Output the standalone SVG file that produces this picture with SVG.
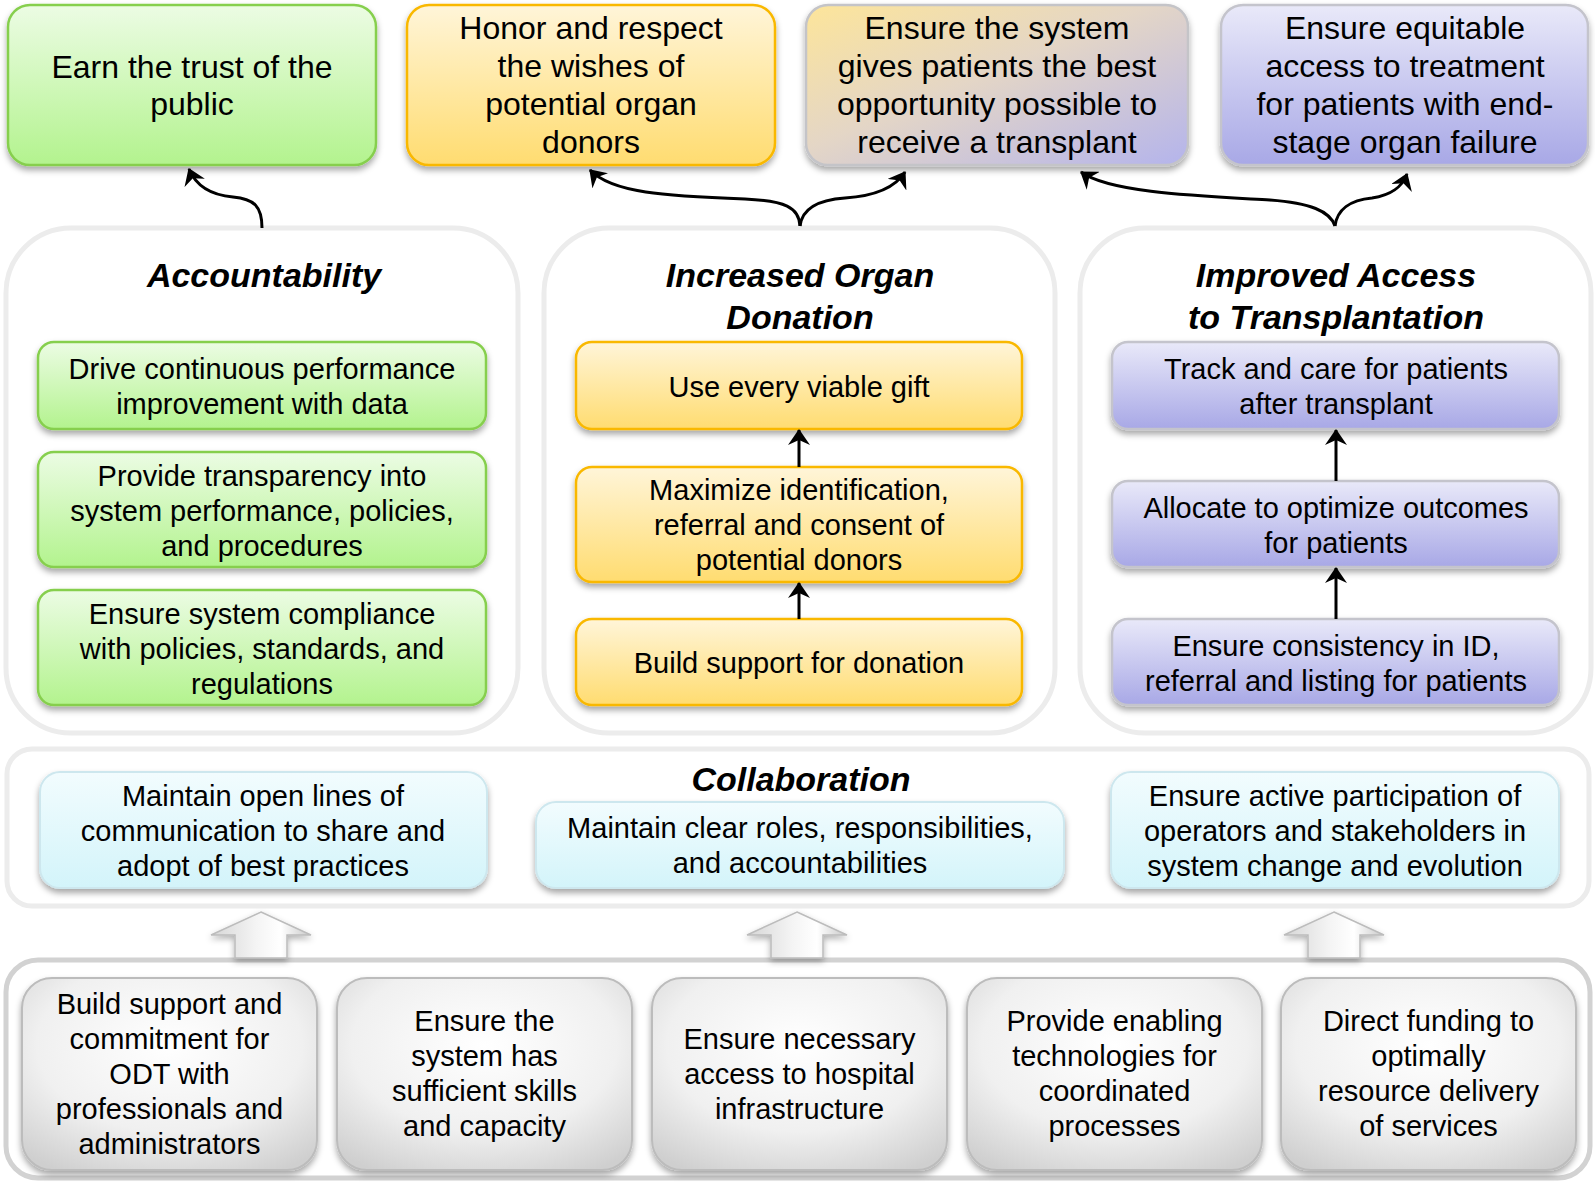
<svg xmlns="http://www.w3.org/2000/svg" width="1595" height="1182" viewBox="0 0 1595 1182">
<defs>
<style>
.t{font-family:"Liberation Sans",Arial,Helvetica,sans-serif;font-size:29px;fill:#000;text-anchor:middle}
.tt{font-size:32px}
.h{font-weight:bold;font-style:italic;font-size:34px}
.cont{fill:#fff;stroke:#ececec;stroke-width:5}
.green{fill:url(#gGreen);stroke:#86cf4e;stroke-width:2.5;filter:url(#sh)}
.orange{fill:url(#gOrange);stroke:#f9b800;stroke-width:2.5;filter:url(#sh)}
.mixed{fill:url(#gMixed);stroke:#c4c4c8;stroke-width:2.5;filter:url(#sh)}
.purple{fill:url(#gPurple);stroke:#c4c4cc;stroke-width:2.5;filter:url(#sh)}
.cyan{fill:url(#gCyan);stroke:#cde7ee;stroke-width:2;filter:url(#sh)}
.grey{fill:url(#gGrey);stroke:#bcbcbc;stroke-width:2;filter:url(#sh)}
.conn{fill:none;stroke:#000;stroke-width:3;marker-end:url(#ah)}
.blk{fill:url(#gBlk);stroke:#bcbcbc;stroke-width:1.5;filter:url(#sh2)}
</style>
<filter id="sh" x="-10%" y="-10%" width="120%" height="130%">
<feDropShadow dx="0" dy="4" stdDeviation="3" flood-color="#000" flood-opacity="0.35"/>
</filter>
<filter id="sh2" x="-20%" y="-20%" width="140%" height="140%">
<feDropShadow dx="0" dy="3" stdDeviation="3" flood-color="#000" flood-opacity="0.3"/>
</filter>
<linearGradient id="gGreen" x1="0" y1="0" x2="0" y2="1">
<stop offset="0" stop-color="#ecfce4"/><stop offset="1" stop-color="#b3f38e"/>
</linearGradient>
<linearGradient id="gOrange" x1="0" y1="0" x2="0" y2="1">
<stop offset="0" stop-color="#fff5d9"/><stop offset="1" stop-color="#ffdc70"/>
</linearGradient>
<linearGradient id="gMixed" x1="0" y1="0" x2="1" y2="1">
<stop offset="0" stop-color="#fde59a"/><stop offset="0.45" stop-color="#e4d6c6"/><stop offset="1" stop-color="#b4b4ec"/>
</linearGradient>
<linearGradient id="gPurple" x1="0" y1="0" x2="0" y2="1">
<stop offset="0" stop-color="#e9e9f9"/><stop offset="1" stop-color="#a8a8e6"/>
</linearGradient>
<linearGradient id="gCyan" x1="0" y1="0" x2="0" y2="1">
<stop offset="0" stop-color="#f2fcfe"/><stop offset="1" stop-color="#d3f4fa"/>
</linearGradient>
<radialGradient id="gGrey" cx="0.5" cy="0.35" r="0.75">
<stop offset="0" stop-color="#ffffff"/><stop offset="0.6" stop-color="#f0f0f0"/><stop offset="1" stop-color="#cfcfcf"/>
</radialGradient>
<linearGradient id="gBlk" x1="0" y1="0" x2="1" y2="0">
<stop offset="0" stop-color="#d6d6d6"/><stop offset="0.45" stop-color="#f4f4f4"/><stop offset="0.7" stop-color="#ffffff"/><stop offset="1" stop-color="#c8c8c8"/>
</linearGradient>
<marker id="ah" viewBox="0 0 16 22" refX="15" refY="11" markerWidth="16" markerHeight="22" markerUnits="userSpaceOnUse" orient="auto">
<path d="M0,0 L16,11 L0,22 L5,11 z" fill="#000"/>
</marker>
</defs>

<rect width="1595" height="1182" fill="#fff"/>

<!-- containers -->
<g id="container-accountability"><rect class="cont" x="6" y="228" width="512" height="505" rx="65"/></g>
<g id="container-iod"><rect class="cont" x="544" y="228" width="511" height="505" rx="65"/></g>
<g id="container-ia"><rect class="cont" x="1080" y="228" width="511" height="505" rx="65"/></g>
<g id="container-collab"><rect class="cont" x="7" y="749" width="1582" height="157" rx="25"/></g>
<g id="container-bottom"><rect class="cont" x="6" y="960" width="1584" height="218" rx="32" style="stroke:#d2d2d2"/></g>

<!-- block arrows -->
<g id="block-arrows">
<polygon class="blk" points="261,912 311,935 287,935 287,958 235,958 235,935 211,935"/>
<polygon class="blk" points="797,912 847,935 823,935 823,958 771,958 771,935 747,935"/>
<polygon class="blk" points="1334,912 1384,935 1360,935 1360,958 1308,958 1308,935 1284,935"/>
</g>

<!-- top goal boxes -->
<g id="goal-trust"><rect class="green" x="8" y="5" width="368" height="160" rx="22"/>
<text class="t tt" x="192" y="78">Earn the trust of the</text><text class="t tt" x="192" y="115">public</text></g>
<g id="goal-honor"><rect class="orange" x="407" y="5" width="368" height="160" rx="22"/>
<text class="t tt" x="591" y="39">Honor and respect</text><text class="t tt" x="591" y="77">the wishes of</text><text class="t tt" x="591" y="115">potential organ</text><text class="t tt" x="591" y="153">donors</text></g>
<g id="goal-opportunity"><rect class="mixed" x="806" y="5" width="382" height="160" rx="22"/>
<text class="t tt" x="997" y="39">Ensure the system</text><text class="t tt" x="997" y="77">gives patients the best</text><text class="t tt" x="997" y="115">opportunity possible to</text><text class="t tt" x="997" y="153">receive a transplant</text></g>
<g id="goal-equitable"><rect class="purple" x="1221" y="5" width="367" height="160" rx="22"/>
<text class="t tt" x="1405" y="39">Ensure equitable</text><text class="t tt" x="1405" y="77">access to treatment</text><text class="t tt" x="1405" y="115">for patients with end-</text><text class="t tt" x="1405" y="153">stage organ failure</text></g>

<!-- Accountability -->
<g id="title-accountability"><text class="t h" x="264" y="287">Accountability</text></g>
<g id="acc-1"><rect class="green" x="38" y="342" width="448" height="87" rx="16"/>
<text class="t" x="262" y="379">Drive continuous performance</text><text class="t" x="262" y="414">improvement with data</text></g>
<g id="acc-2"><rect class="green" x="38" y="452" width="448" height="115" rx="16"/>
<text class="t" x="262" y="486">Provide transparency into</text><text class="t" x="262" y="521">system performance, policies,</text><text class="t" x="262" y="556">and procedures</text></g>
<g id="acc-3"><rect class="green" x="38" y="590" width="448" height="115" rx="16"/>
<text class="t" x="262" y="624">Ensure system compliance</text><text class="t" x="262" y="659">with policies, standards, and</text><text class="t" x="262" y="694">regulations</text></g>

<!-- Increased Organ Donation -->
<g id="title-iod"><text class="t h" x="800" y="287">Increased Organ</text><text class="t h" x="800" y="329">Donation</text></g>
<g id="iod-1"><rect class="orange" x="576" y="342" width="446" height="87" rx="16"/>
<text class="t" x="799" y="397">Use every viable gift</text></g>
<g id="iod-2"><rect class="orange" x="576" y="467" width="446" height="115" rx="16"/>
<text class="t" x="799" y="500">Maximize identification,</text><text class="t" x="799" y="535">referral and consent of</text><text class="t" x="799" y="570">potential donors</text></g>
<g id="iod-3"><rect class="orange" x="576" y="619" width="446" height="86" rx="16"/>
<text class="t" x="799" y="673">Build support for donation</text></g>

<!-- Improved Access -->
<g id="title-ia"><text class="t h" x="1336" y="287">Improved Access</text><text class="t h" x="1336" y="329">to Transplantation</text></g>
<g id="ia-1"><rect class="purple" x="1112" y="342" width="447" height="87" rx="16"/>
<text class="t" x="1336" y="379">Track and care for patients</text><text class="t" x="1336" y="414">after transplant</text></g>
<g id="ia-2"><rect class="purple" x="1112" y="481" width="447" height="86" rx="16"/>
<text class="t" x="1336" y="518">Allocate to optimize outcomes</text><text class="t" x="1336" y="553">for patients</text></g>
<g id="ia-3"><rect class="purple" x="1112" y="619" width="447" height="86" rx="16"/>
<text class="t" x="1336" y="656">Ensure consistency in ID,</text><text class="t" x="1336" y="691">referral and listing for patients</text></g>

<!-- Collaboration -->
<g id="title-collab"><text class="t h" x="801" y="791">Collaboration</text></g>
<g id="collab-1"><rect class="cyan" x="40" y="772" width="447" height="116" rx="20"/>
<text class="t" x="263" y="806">Maintain open lines of</text><text class="t" x="263" y="841">communication to share and</text><text class="t" x="263" y="876">adopt of best practices</text></g>
<g id="collab-2"><rect class="cyan" x="536" y="802" width="528" height="86" rx="20"/>
<text class="t" x="800" y="838">Maintain clear roles, responsibilities,</text><text class="t" x="800" y="873">and accountabilities</text></g>
<g id="collab-3"><rect class="cyan" x="1111" y="772" width="448" height="116" rx="20"/>
<text class="t" x="1335" y="806">Ensure active participation of</text><text class="t" x="1335" y="841">operators and stakeholders in</text><text class="t" x="1335" y="876">system change and evolution</text></g>

<!-- Bottom enablers -->
<g id="enabler-1"><rect class="grey" x="22" y="978" width="295" height="192" rx="30"/>
<text class="t" x="169.5" y="1014">Build support and</text><text class="t" x="169.5" y="1049">commitment for</text><text class="t" x="169.5" y="1084">ODT with</text><text class="t" x="169.5" y="1119">professionals and</text><text class="t" x="169.5" y="1154">administrators</text></g>
<g id="enabler-2"><rect class="grey" x="337" y="978" width="295" height="192" rx="30"/>
<text class="t" x="484.5" y="1031">Ensure the</text><text class="t" x="484.5" y="1066">system has</text><text class="t" x="484.5" y="1101">sufficient skills</text><text class="t" x="484.5" y="1136">and capacity</text></g>
<g id="enabler-3"><rect class="grey" x="652" y="978" width="295" height="192" rx="30"/>
<text class="t" x="799.5" y="1049">Ensure necessary</text><text class="t" x="799.5" y="1084">access to hospital</text><text class="t" x="799.5" y="1119">infrastructure</text></g>
<g id="enabler-4"><rect class="grey" x="967" y="978" width="295" height="192" rx="30"/>
<text class="t" x="1114.5" y="1031">Provide enabling</text><text class="t" x="1114.5" y="1066">technologies for</text><text class="t" x="1114.5" y="1101">coordinated</text><text class="t" x="1114.5" y="1136">processes</text></g>
<g id="enabler-5"><rect class="grey" x="1281" y="978" width="295" height="192" rx="30"/>
<text class="t" x="1428.5" y="1031">Direct funding to</text><text class="t" x="1428.5" y="1066">optimally</text><text class="t" x="1428.5" y="1101">resource delivery</text><text class="t" x="1428.5" y="1136">of services</text></g>

<!-- connectors -->
<g id="connectors">
<path class="conn" d="M262,228 C262,206 254,199 233,197 C210,195 196,186 189,169"/>
<path class="conn" d="M800,226 C799,207 785,201 745,199 C665,196 612,193 590,170"/>
<path class="conn" d="M800,226 C802,210 815,200 845,198 C875,196 895,188 905,172"/>
<path class="conn" d="M1335,226 C1330,211 1310,203 1270,200 C1200,196 1110,193 1081,172"/>
<path class="conn" d="M1335,226 C1337,210 1350,200 1372,198 C1392,195 1402,187 1407,174"/>
<path class="conn" d="M799,467 L799,430"/>
<path class="conn" d="M799,619 L799,583"/>
<path class="conn" d="M1336,481 L1336,430"/>
<path class="conn" d="M1336,619 L1336,568"/>
</g>
</svg>
